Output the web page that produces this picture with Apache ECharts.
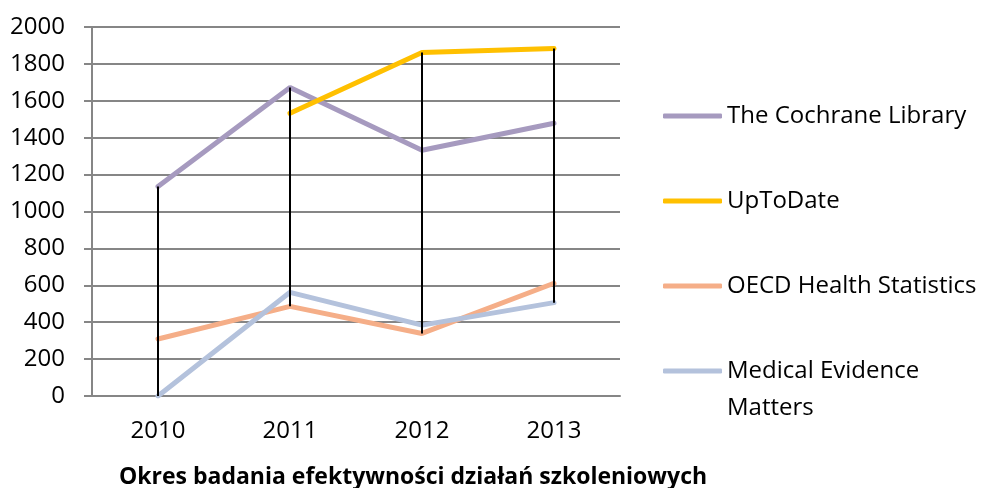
<!DOCTYPE html>
<html>
<head>
<meta charset="utf-8">
<script src="https://cdn.jsdelivr.net/npm/echarts@6/dist/echarts.min.js"></script>
<style>
  html, body { margin: 0; padding: 0; background: #ffffff; }
  #chart { width: 984px; height: 488px; }
</style>
</head>
<body>
<div id="chart"></div>
<script>
var years = ['2010', '2011', '2012', '2013']
var cochrane = [1135, 1672, 1332, 1478]
var upToDate = [null, 1532, 1862, 1884]
var oecd = [309, 486, 339, 611]
var medical = [0, 562, 384, 506]
var yTicks = { min: 0, max: 2000, step: 200 }

// high-low: od max do min dla kazdego roku
var allSeries = [cochrane, upToDate, oecd, medical]
var highLow = years.map(function (y, i) {
  var vals = allSeries.map(function (s) { return s[i] }).filter(function (v) { return v !== null })
  return [i, Math.max.apply(null, vals), Math.min.apply(null, vals)]
})

var font = 'Open Sans'
var chart = echarts.init(document.getElementById('chart'))

function lineSeries(name, data, color) {
  return {
    name: name,
    type: 'line',
    data: data,
    showSymbol: false,
    symbol: 'none',
    color: color,
    lineStyle: { width: 5, color: color, cap: 'round' },
    animation: false,
    z: 2
  }
}

var option = {
  backgroundColor: '#ffffff',
  title: {
    text: 'Okres badania efektywności działań szkoleniowych',
    left: 408,
    top: 461,
    textAlign: 'center',
    textStyle: { fontFamily: font, fontSize: 23, fontWeight: 'bold', color: '#000000' }
  },
  legend: {
    orient: 'vertical',
    left: 663,
    top: 103,
    padding: 0,
    itemWidth: 59,
    itemHeight: 5,
    itemGap: 59,
    icon: 'roundRect',
    textStyle: { fontFamily: font, fontSize: 24, color: '#000000', lineHeight: 26 },
    data: ['The Cochrane Library', 'UpToDate', 'OECD Health Statistics', 'Medical Evidence Matters'],
    formatter: function (name) {
      // druga linia "Matters" dopisana nizej jako graphic
      return name === 'Medical Evidence Matters' ? 'Medical Evidence' : name
    }
  },
  graphic: [
    {
      type: 'text',
      left: 727,
      top: 396,
      style: { text: 'Matters', fontFamily: font, fontSize: 24, fill: '#000000' }
    }
  ],
  grid: { left: 92, right: 364, top: 27, bottom: 92 },
  xAxis: {
    type: 'category',
    data: years,
    boundaryGap: true,
    axisLine: { show: true, lineStyle: { color: '#868686', width: 2 } },
    axisTick: { show: false },
    axisLabel: { fontFamily: font, fontSize: 24, color: '#000000', margin: 23 }
  },
  yAxis: {
    type: 'value',
    min: yTicks.min,
    max: yTicks.max,
    interval: yTicks.step,
    axisLine: { show: true, lineStyle: { color: '#868686', width: 2 } },
    axisTick: { show: true, length: 8, lineStyle: { color: '#868686', width: 2 } },
    splitLine: { lineStyle: { color: '#868686', width: 2 } },
    axisLabel: {
      fontFamily: font, fontSize: 24, color: '#000000', margin: 27,
      formatter: function (v) { return String(v) }
    }
  },
  series: [
    lineSeries('The Cochrane Library', cochrane, '#A69ABF'),
    lineSeries('UpToDate', upToDate, '#FFC000'),
    lineSeries('OECD Health Statistics', oecd, '#F5AE88'),
    lineSeries('Medical Evidence Matters', medical, '#B4C2DC'),
    {
      type: 'custom',
      data: highLow,
      silent: true,
      animation: false,
      z: 3,
      renderItem: function (params, api) {
        var top = api.coord([api.value(0), api.value(1)])
        var bottom = api.coord([api.value(0), api.value(2)])
        return {
          type: 'line',
          shape: { x1: top[0], y1: top[1], x2: bottom[0], y2: bottom[1] },
          style: { stroke: '#000000', lineWidth: 2 }
        }
      }
    }
  ]
}
chart.setOption(option)
</script>
</body>
</html>
